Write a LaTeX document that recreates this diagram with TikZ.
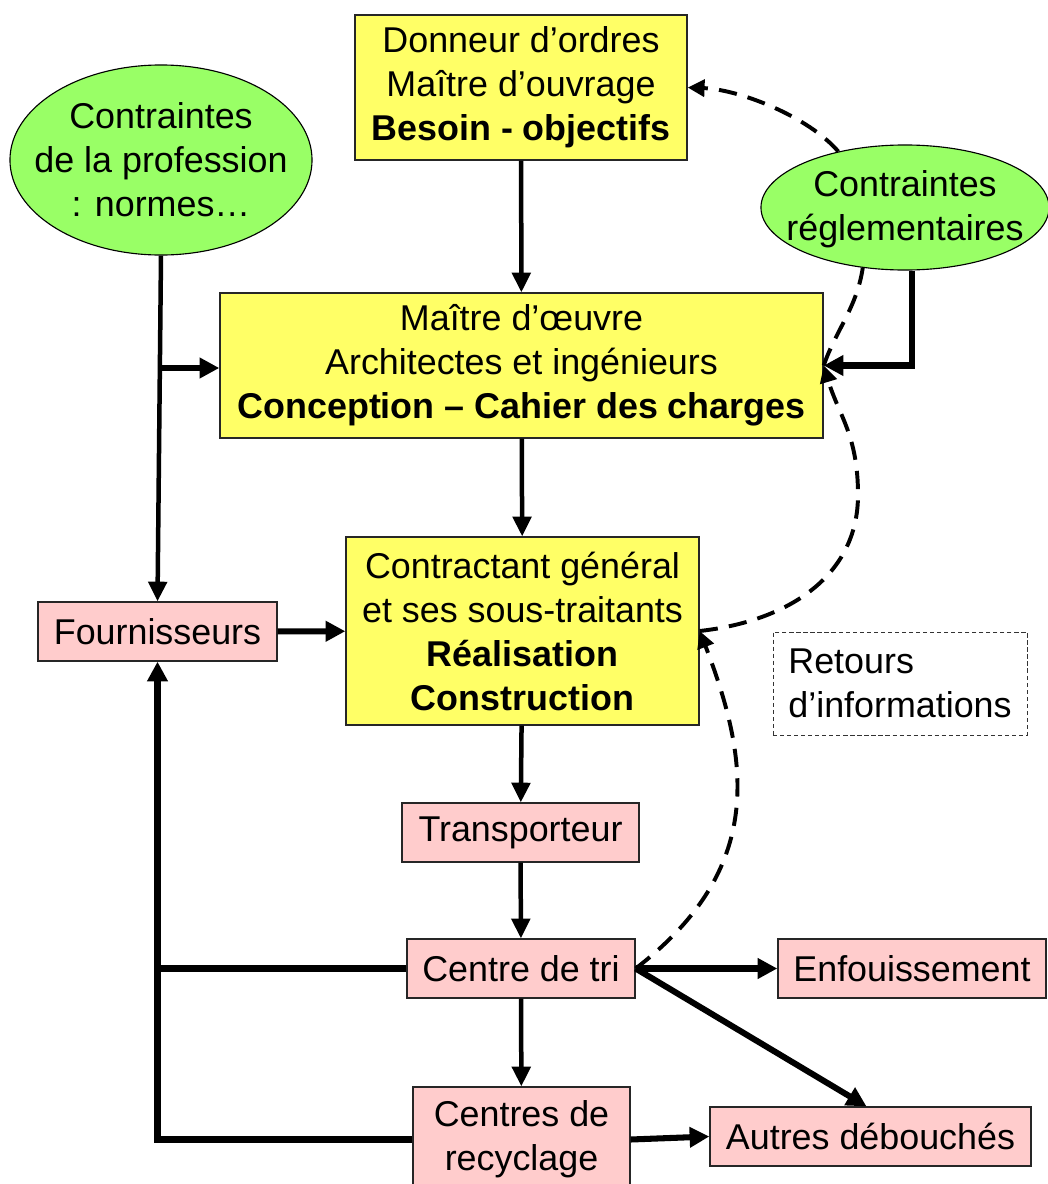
\documentclass[tikz,border=0pt]{standalone}
\usepackage{fontspec}
\setmainfont{Liberation Sans}
\usetikzlibrary{arrows.meta,shapes.geometric}
\definecolor{boxyellow}{HTML}{FFFF66}
\definecolor{boxpink}{HTML}{FFCCCC}
\definecolor{ovalgreen}{HTML}{99FF66}
\tikzset{
	bigfont/.style={font=\fontsize{25.5}{31.3}\selectfont},
	yellowbox/.style={bigfont, draw=black!85, line width=0.9pt, fill=boxyellow, align=center, inner sep=0pt},
	pinkbox/.style={bigfont, draw=black!85, line width=0.9pt, fill=boxpink, align=center, inner sep=0pt, minimum height=1.475cm},
	greenoval/.style={ellipse, draw=black, line width=0.8pt, fill=ovalgreen, inner sep=0pt},
	ovaltext/.style={bigfont, align=center, inner sep=0pt},
	thinflow/.style={line width=3.2pt, -{Triangle[length=14pt,width=13pt]}},
	thickflow/.style={line width=4.3pt, -{Triangle[length=14pt,width=14pt]}},
	thickline/.style={line width=4.3pt},
	feedback/.style={line width=2.8pt, dash pattern=on 13pt off 8pt, -{Triangle[length=12pt,width=12pt]}}
}

\begin{document}
\begin{tikzpicture}[x=0.025cm, y=-0.025cm]
			%%%%% START %%%%%
			\useasboundingbox (0, 0) rectangle (1047, 1184);
			
			% the chain of actors
			\node[yellowbox, minimum width=8.3cm, minimum height=3.625cm] (don) at (521, 87.5)
				{Donneur d’ordres\\Maître d’ouvrage\\\textbf{Besoin - objectifs}};
			\node[yellowbox, minimum width=15.075cm, minimum height=3.625cm] (moe) at (521.5, 365.5)
				{Maître d’œuvre\\Architectes et ingénieurs\\\textbf{Conception – Cahier des charges}};
			\node[yellowbox, minimum width=8.825cm, minimum height=4.7cm] (ctg) at (522.5, 631)
				{Contractant général\\et ses sous-traitants\\\textbf{Réalisation}\\\textbf{Construction}};
			
			% constraints
			\node[greenoval, minimum width=7.55cm, minimum height=4.75cm] (prof) at (161, 160) {};
			\node[ovaltext] (proftxt) at (prof.center) {Contraintes\\de la profession\\: normes…};
			\node[greenoval, minimum width=7.2cm, minimum height=3.125cm] (regl) at (905, 207.5) {};
			\node[ovaltext] (regltxt) at ([yshift=-0.05cm]regl.center) {Contraintes\\réglementaires};
			
			% waste side
			\node[pinkbox, minimum width=5.975cm] (four) at (157.5, 631.5) {Fournisseurs};
			\node[pinkbox, minimum width=5.925cm] (trans) at (520.5, 832.5) {Transporteur};
			\node[pinkbox, minimum width=5.7cm] (tri) at (521, 968.5) {Centre de tri};
			\node[pinkbox, minimum width=6.7cm] (enf) at (912, 968.5) {Enfouissement};
			\node[pinkbox, minimum width=5.425cm, minimum height=2.625cm] (recy) at (521.5, 1139.5) {Centres de\\recyclage};
			\node[pinkbox, minimum width=8.025cm] (autres) at (870.5, 1136.5) {Autres débouchés};
			
			\node[bigfont, draw=black!80, line width=0.6pt, dash pattern=on 3pt off 2pt, align=left,
				minimum width=6.35cm, minimum height=2.575cm, inner sep=0pt] (ret) at (900, 683.5)
				{Retours\\d’informations};
			
			% solid flows
			\draw[thinflow] (don) -- (moe);
			\draw[thinflow] (moe) -- (ctg);
			\draw[thickflow] ([xshift=0.17cm]regl.south) |- (moe.east);
			\draw[thinflow] (prof.south) -- (four.north);
			\coordinate (pj) at (160, 368);
			\draw[thickflow] (pj) -- (pj -| moe.west);
			\draw[thickflow] (four) -- (ctg);
			\draw[thinflow] (ctg) -- (trans);
			\draw[thinflow] (trans) -- (tri);
			\draw[thinflow] (tri) -- (recy);
			\draw[thickline] (recy.west) -| (tri.west -| four.south);
			\draw[thickflow] (tri.west) -| (four.south);
			\draw[thickflow] (tri.east) -- (enf.west);
			\draw[thickflow] (tri.east) -- ([xshift=-0.1cm]autres.north);
			\draw[thickflow] (recy.east) -- (autres.west);
			
			% feedback
			\coordinate (fb) at (858, 495);
			\draw[feedback] (tri.east) .. controls +(130, -100) and +(50, 130) .. (ctg.east);
			\draw[feedback] (ctg.east) .. controls +(90, -10) and +(0, 80) .. (fb)
				.. controls +(0, -60) and +(15, 50) .. (moe.east);
			\draw[feedback, -] (moe.east) .. controls +(12, -35) and +(-6, 40) .. (regl.-125);
			\draw[feedback] (regl.140) .. controls +(-30, -35) and +(52, 2) .. (don.east);
			
			%%%%% END %%%%%
\end{tikzpicture}
\end{document}
